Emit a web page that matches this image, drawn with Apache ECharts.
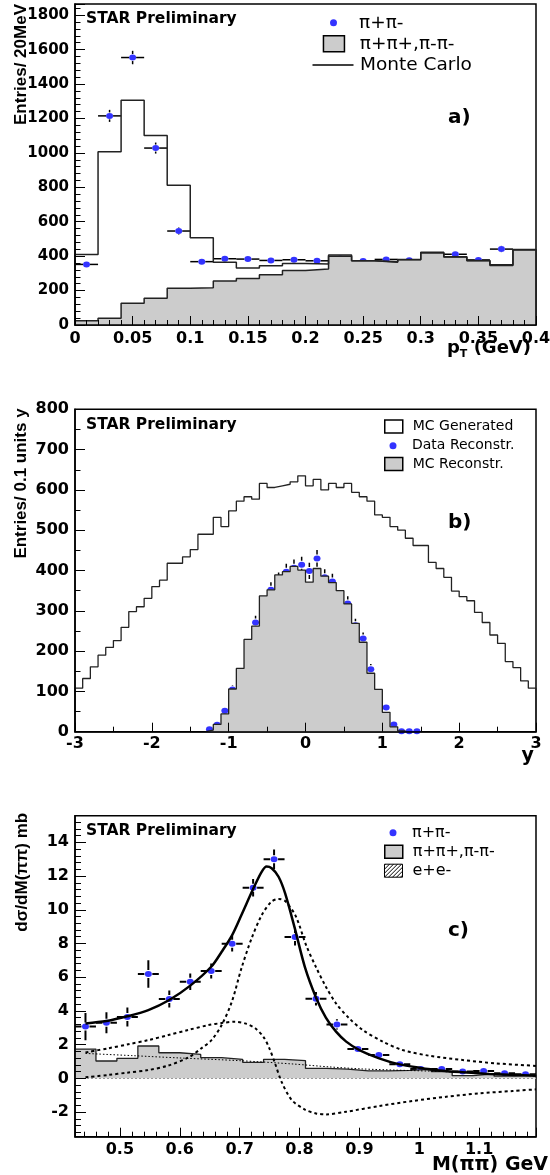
<!DOCTYPE html>
<html><head><meta charset="utf-8">
<script src="https://cdn.jsdelivr.net/npm/echarts@6/dist/echarts.min.js"></script>
<style>html,body{margin:0;padding:0;background:#fff}#c{width:550px;height:1175px}</style>
</head><body><div id="c"></div>
<script>
// ---------- Panel a) pT distribution ----------
const ptBinLow = 0, ptBinWidth = 0.02;
const ptData     = [352, 1215, 1554, 1028, 546, 368, 385, 383, 375, 379, 373, 387, 372, 381, 376, 403, 411, 378, 441, 418];
const ptDataErr  = [19, 35, 39, 32, 23, 19, 20, 20, 19, 19, 19, 20, 19, 20, 19, 20, 20, 19, 21, 20];
const ptLikeSign = [25, 39, 126, 155, 213, 217, 256, 270, 292, 316, 325, 400, 373, 364, 379, 418, 395, 375, 350, 436];
const ptMC       = [410, 1006, 1306, 1101, 812, 507, 364, 331, 344, 358, 355, 406, 374, 367, 381, 422, 397, 374, 345, 439];

// ---------- Panel b) rapidity ----------
const yGenLow = -3, yBinWidth = 0.1;
const yMCGen = [108,132,161,190,209,226,259,298,310,331,
                360,376,418,418,434,452,490,490,532,509,
                548,572,583,577,616,606,610,614,620,635,
                610,626,600,616,606,616,594,583,572,538,
                532,509,500,480,462,462,420,405,383,349,
                335,325,296,271,240,219,174,159,126,108];
const yRecoLow = -1.3;
const yMCReco = [4, 18, 44, 106, 157, 229, 262, 337, 352, 389, 397, 410, 401, 371, 405, 386, 370, 350, 317, 269, 222, 145, 105, 48, 12, 2];
const yDataLow = -1.3;
const yData    = [6, 17, 52, 105, 145, 209, 271, 313, 352, 376, 397, 407, 414, 399, 430, 383, 373, 328, 318, 264, 231, 155, 98, 60, 18, 1, 1, 1];
const yDataErr = [3, 5, 8, 11, 12, 15, 17, 18, 19, 19, 20, 20, 20, 20, 21, 20, 19, 18, 18, 16, 15, 13, 10, 8, 5, 1, 1, 1];

// ---------- Panel c) invariant mass ----------
const mBinLow = 0.425, mBinWidth = 0.035;
const mData     = [3.07, 3.30, 3.64, 6.19, 4.71, 5.73, 6.37, 7.99, 11.31, 12.99, 8.38, 4.72, 3.20, 1.74, 1.38, 0.83, 0.55, 0.55, 0.40, 0.44, 0.30, 0.24];
const mDataErr  = [0.81, 0.62, 0.57, 0.82, 0.50, 0.49, 0.45, 0.46, 0.52, 0.59, 0.50, 0.40, 0.30, 0.22, 0.20, 0.15, 0.12, 0.12, 0.10, 0.10, 0.08, 0.07];
const mLikeSign = [1.74, 1.03, 1.19, 1.92, 1.52, 1.42, 1.23, 1.13, 0.95, 1.13, 1.05, 0.59, 0.55, 0.45, 0.44, 0.47, 0.53, 0.40, 0.16, 0.27, 0.13, 0.20];
const fitTotal = [[0.4425,3.26],[0.4775,3.40],[0.5125,3.68],[0.5475,4.05],[0.5825,4.65],[0.6175,5.50],[0.6525,6.62],[0.670,7.51],[0.6875,8.50],[0.703,9.69],[0.7225,11.23],[0.737,12.26],[0.745,12.56],[0.7535,12.46],[0.765,11.96],[0.776,10.97],[0.7925,8.85],[0.809,6.60],[0.8275,4.80],[0.844,3.60],[0.861,2.77],[0.878,2.18],[0.900,1.68],[0.933,1.19],[0.967,0.83],[1.000,0.63],[1.0335,0.47],[1.0725,0.36],[1.117,0.26],[1.195,0.16]];
const fitRho = [[0.4425,0.06],[0.48,0.20],[0.5125,0.34],[0.547,0.49],[0.58,0.75],[0.614,1.23],[0.636,1.78],[0.653,2.27],[0.670,3.16],[0.687,4.55],[0.703,6.53],[0.720,8.31],[0.737,9.69],[0.753,10.48],[0.765,10.64],[0.776,10.52],[0.794,9.60],[0.811,7.90],[0.8275,6.60],[0.844,5.44],[0.861,4.45],[0.883,3.56],[0.9055,2.87],[0.939,2.18],[0.972,1.68],[1.017,1.34],[1.0725,1.09],[1.128,0.89],[1.195,0.74]];
const fitInterf = [[0.4425,1.54],[0.48,1.78],[0.514,2.02],[0.5475,2.27],[0.581,2.57],[0.614,2.87],[0.648,3.16],[0.670,3.28],[0.692,3.36],[0.709,3.26],[0.726,2.97],[0.740,2.45],[0.750,1.75],[0.759,0.90],[0.770,-0.20],[0.787,-1.28],[0.809,-1.85],[0.8275,-2.08],[0.844,-2.14],[0.878,-1.98],[0.933,-1.64],[0.989,-1.34],[1.045,-1.09],[1.10,-0.89],[1.156,-0.75],[1.195,-0.65]];
const fitDirect = [[0.4425,1.48],[0.52,1.35],[0.60,1.21],[0.70,1.05],[0.79,0.85],[0.85,0.68],[0.905,0.56],[0.96,0.49],[1.017,0.43],[1.07,0.36],[1.128,0.25],[1.195,0.14]];

// ---------- helpers ----------
const r4 = v => Math.round(v * 10000) / 10000;
function stepPoints(low, width, vals) {
  const pts = [[r4(low), 0]];
  vals.forEach((v, i) => pts.push([r4(low + i * width), v]));
  const hi = r4(low + vals.length * width);
  pts.push([hi, vals[vals.length - 1]]);
  pts.push([hi, 0]);
  return pts;
}
function centers(low, width, vals) { return vals.map((v, i) => [r4(low + (i + 0.5) * width), v]); }
function errData(low, width, vals, errs) { return vals.map((v, i) => [r4(low + (i + 0.5) * width), v, width / 2, errs[i]]); }
function errBars(gap, lw) {
  return function (params, api) {
    const x = api.value(0), y = api.value(1), ex = api.value(2), ey = api.value(3);
    const c = api.coord([x, y]);
    const xl = api.coord([x - ex, y])[0], xr = api.coord([x + ex, y])[0];
    const yt = api.coord([x, y + ey])[1], yb = api.coord([x, y - ey])[1];
    const st = () => ({ stroke: '#000', lineWidth: lw });
    const ch = [];
    if (c[0] - xl > gap) ch.push({ type: 'line', shape: { x1: xl, y1: c[1], x2: c[0] - gap, y2: c[1] }, style: st() });
    if (xr - c[0] > gap) ch.push({ type: 'line', shape: { x1: c[0] + gap, y1: c[1], x2: xr, y2: c[1] }, style: st() });
    if (c[1] - yt > gap) ch.push({ type: 'line', shape: { x1: c[0], y1: yt, x2: c[0], y2: c[1] - gap }, style: st() });
    if (yb - c[1] > gap) ch.push({ type: 'line', shape: { x1: c[0], y1: c[1] + gap, x2: c[0], y2: yb }, style: st() });
    return { type: 'group', children: ch };
  };
}
const LB = 'DejaVu Sans';
const fmt = v => String(+(+v).toFixed(6));
function axis(gi, o) {
  return Object.assign({
    type: 'value', gridIndex: gi, z: 5, nameMoveOverlap: false,
    axisLine: { show: true, onZero: false, lineStyle: { color: '#000', width: 1.5 } },
    axisTick: { show: true, inside: true, length: o.tickLen || 9, lineStyle: { color: '#000', width: 1 } },
    minorTick: { show: true, splitNumber: o.minor, length: (o.tickLen || 9) / 2 + 0.5, lineStyle: { color: '#000', width: 1 } },
    splitLine: { show: false }, minorSplitLine: { show: false },
    axisLabel: Object.assign({ color: '#000', fontFamily: LB, fontWeight: 'bold', fontSize: 16, margin: 5, formatter: fmt }, o.label || {})
  }, o.opt);
}
const yName = (txt, gap, shift) => ({
  name: txt, nameLocation: 'middle', nameRotate: 90, nameGap: gap,
  nameTextStyle: { fontFamily: 'Liberation Sans', fontWeight: 'bold', fontSize: 17, color: '#000', padding: [0, 0, 0, shift * 2] }
});
// x-axis title placed at the axis middle and shifted right by `shift` px
const xName = (txt, gap, shift, extra) => ({
  name: txt, nameLocation: 'middle', nameRotate: 0, nameGap: gap,
  nameTextStyle: Object.assign({ fontFamily: LB, fontWeight: 'bold', fontSize: 19, lineHeight: 22, color: '#000',
    align: 'center', verticalAlign: 'top', padding: [0, 0, 0, shift * 2] }, extra || {})
});
function leg(name, left, top, w, h, icon, itemStyle, pad, fs) {
  return { show: true, left: left, top: top, padding: 0, itemWidth: w, itemHeight: h, selectedMode: false,
    data: [{ name: name, icon: icon, itemStyle: itemStyle }],
    textStyle: { fontFamily: LB, fontSize: fs, color: '#000', lineHeight: 20, padding: [0, 0, 0, pad] } };
}
const BLUE = '#0000ff', GRAY = '#cccccc';
const hatch = 'path://M0,0L18,0L18,13L0,13Z M0,1L1,0 M0,5L5,0 M0,9L9,0 M0,13L13,0 M4,13L17,0 M8,13L18,3 M12,13L18,7 M16,13L18,11';
const gridBase = { left: 75, width: 461, show: true, borderColor: '#000', borderWidth: 1.5, backgroundColor: 'transparent', containLabel: false, outerBoundsMode: 'none' };

const option = {
  animation: false,
  backgroundColor: '#fff',
  grid: [
    Object.assign({ top: 4, height: 321 }, gridBase),
    Object.assign({ top: 409.3, height: 322.4 }, gridBase),
    Object.assign({ top: 815.7, height: 321 }, gridBase)
  ],
  xAxis: [
    axis(0, { minor: 5, label: { margin: 6 }, opt: Object.assign({ min: 0, max: 0.4, interval: 0.05 },
      xName('{a|p}{s|T}{a| (GeV)}', 12.5, 183.5, {
        rich: { a: { fontFamily: LB, fontWeight: 'bold', fontSize: 18, lineHeight: 22, color: '#000' },
                s: { fontFamily: LB, fontWeight: 'bold', fontSize: 11, lineHeight: 12, verticalAlign: 'bottom', color: '#000' } } })) }),
    axis(1, { minor: 2, label: { margin: 4.5 }, opt: Object.assign({ min: -3, max: 3, interval: 1 },
      xName('y', 13.3, 222.3)) }),
    axis(2, { minor: 5, label: { margin: 5, showMinLabel: false, showMaxLabel: false },
      opt: Object.assign({ min: 0.425, max: 1.195, minInterval: 0.1, maxInterval: 0.1 },
      xName('M(ππ) GeV', 17.3, 184.5)) })
  ],
  yAxis: [
    axis(0, { minor: 5, tickLen: 10, label: { fontSize: 15, margin: 6, showMaxLabel: false },
      opt: Object.assign({ min: 0, max: 1865, interval: 200 }, yName('Entries/ 20MeV', 45, 100)) }),
    axis(1, { minor: 2, tickLen: 10, label: { margin: 6 },
      opt: Object.assign({ min: 0, max: 800, interval: 100 }, yName('Entries/ 0.1 units y', 45, 87)) }),
    axis(2, { minor: 5, tickLen: 11, label: { margin: 6, showMinLabel: false, showMaxLabel: false },
      opt: Object.assign({ min: -3.46, max: 15.58, minInterval: 2, maxInterval: 2 }, yName('dσ/dM(ππ) mb', 44, 104)) })
  ],
  legend: [
    leg('π+π-', 330, 12.7, 7, 7, 'circle', { color: BLUE, borderWidth: 0 }, 17, 18.5),
    leg('π+π+,π-π-', 322.7, 33.8, 21, 16, 'rect', { color: GRAY, borderColor: '#000', borderWidth: 1.5 }, 10.3, 18.5),
    leg('Monte Carlo', 312.5, 55, 41, 1.5, 'rect', { color: '#000', borderWidth: 0 }, 1.5, 18.5),
    leg('MC Generated', 384, 416.5, 18, 13, 'rect', { color: '#fff', borderColor: '#000', borderWidth: 1.5 }, 5, 14),
    leg('Data Reconstr.', 389.5, 435.7, 7, 7, 'circle', { color: BLUE, borderWidth: 0 }, 10.5, 14),
    leg('MC Reconstr.', 384, 454, 18, 13, 'rect', { color: GRAY, borderColor: '#000', borderWidth: 1.5 }, 5, 14),
    leg('π+π-', 389.5, 822.7, 7, 7, 'circle', { color: BLUE, borderWidth: 0 }, 10.5, 16),
    leg('π+π+,π-π-', 384, 841.7, 18, 13, 'rect', { color: GRAY, borderColor: '#000', borderWidth: 1.5 }, 5, 16),
    leg('e+e-', 384, 860.7, 18, 13, hatch, { color: '#fff', borderColor: '#000', borderWidth: 1 }, 5, 16)
  ],
  graphic: [
    { type: 'text', x: 86, y: 19, z: 100, style: { text: 'STAR Preliminary', font: 'bold 15.5px "DejaVu Sans"', fill: '#000', verticalAlign: 'middle' } },
    { type: 'text', x: 448, y: 118, z: 100, style: { text: 'a)', font: 'bold 20px "DejaVu Sans"', fill: '#000', verticalAlign: 'middle' } },
    { type: 'text', x: 86, y: 425, z: 100, style: { text: 'STAR Preliminary', font: 'bold 15.5px "DejaVu Sans"', fill: '#000', verticalAlign: 'middle' } },
    { type: 'text', x: 448, y: 523, z: 100, style: { text: 'b)', font: 'bold 20px "DejaVu Sans"', fill: '#000', verticalAlign: 'middle' } },
    { type: 'text', x: 86, y: 831, z: 100, style: { text: 'STAR Preliminary', font: 'bold 15.5px "DejaVu Sans"', fill: '#000', verticalAlign: 'middle' } },
    { type: 'text', x: 448, y: 931, z: 100, style: { text: 'c)', font: 'bold 20px "DejaVu Sans"', fill: '#000', verticalAlign: 'middle' } }
  ],
  series: [
    // panel a
    { type: 'line', name: 'π+π+,π-π-', xAxisIndex: 0, yAxisIndex: 0, step: 'end', symbol: 'none',
      data: stepPoints(ptBinLow, ptBinWidth, ptLikeSign), lineStyle: { color: '#222', width: 1.5 },
      itemStyle: { color: GRAY }, areaStyle: { color: GRAY, opacity: 1 } },
    { type: 'line', name: 'Monte Carlo', xAxisIndex: 0, yAxisIndex: 0, step: 'end', symbol: 'none',
      data: stepPoints(ptBinLow, ptBinWidth, ptMC), lineStyle: { color: '#222', width: 1.5 }, itemStyle: { color: '#000' } },
    { type: 'custom', name: 'pt-err', xAxisIndex: 0, yAxisIndex: 0, renderItem: errBars(3.5, 1.5), clip: true,
      encode: { x: 0, y: 1 }, data: errData(ptBinLow, ptBinWidth, ptData, ptDataErr) },
    { type: 'scatter', name: 'π+π-', xAxisIndex: 0, yAxisIndex: 0, symbol: 'circle', symbolSize: [7, 6],
      itemStyle: { color: BLUE }, data: centers(ptBinLow, ptBinWidth, ptData) },
    // panel b
    { type: 'line', name: 'MC Reconstr.', xAxisIndex: 1, yAxisIndex: 1, step: 'end', symbol: 'none',
      data: stepPoints(yRecoLow, yBinWidth, yMCReco), lineStyle: { color: '#222', width: 1.3 },
      itemStyle: { color: GRAY }, areaStyle: { color: GRAY, opacity: 1 } },
    { type: 'line', name: 'MC Generated', xAxisIndex: 1, yAxisIndex: 1, step: 'end', symbol: 'none',
      data: stepPoints(yGenLow, yBinWidth, yMCGen), lineStyle: { color: '#222', width: 1.3 }, itemStyle: { color: '#000' } },
    { type: 'custom', name: 'y-err', xAxisIndex: 1, yAxisIndex: 1, renderItem: errBars(4, 1.5), clip: true,
      encode: { x: 0, y: 1 }, data: errData(yDataLow, yBinWidth, yData, yDataErr) },
    { type: 'scatter', name: 'Data Reconstr.', xAxisIndex: 1, yAxisIndex: 1, symbol: 'circle', symbolSize: [7, 6],
      itemStyle: { color: BLUE }, data: centers(yDataLow, yBinWidth, yData) },
    // panel c
    { type: 'line', name: 'π+π+,π-π-', xAxisIndex: 2, yAxisIndex: 2, step: 'end', symbol: 'none',
      data: stepPoints(mBinLow, mBinWidth, mLikeSign), lineStyle: { color: '#222', width: 1.3 },
      itemStyle: { color: GRAY }, areaStyle: { color: GRAY, opacity: 1 },
      markLine: { silent: true, symbol: ['none', 'none'], label: { show: false },
        lineStyle: { color: '#999', type: [2, 2], width: 1 }, data: [{ yAxis: 0 }] } },
    { type: 'line', name: 'e+e-', xAxisIndex: 2, yAxisIndex: 2, symbol: 'none', data: [] },
    { type: 'line', name: 'direct', xAxisIndex: 2, yAxisIndex: 2, symbol: 'none', smooth: 0.3,
      data: fitDirect, lineStyle: { color: '#000', width: 1, type: [1.5, 2] } },
    { type: 'line', name: 'interference', xAxisIndex: 2, yAxisIndex: 2, symbol: 'none', smooth: 0.3,
      data: fitInterf, lineStyle: { color: '#000', width: 2, type: [3, 3] } },
    { type: 'line', name: 'rho', xAxisIndex: 2, yAxisIndex: 2, symbol: 'none', smooth: 0.3,
      data: fitRho, lineStyle: { color: '#000', width: 2, type: [3, 3] } },
    { type: 'line', name: 'fit', xAxisIndex: 2, yAxisIndex: 2, symbol: 'none', smooth: 0.3,
      data: fitTotal, lineStyle: { color: '#000', width: 2.5 } },
    { type: 'custom', name: 'm-err', xAxisIndex: 2, yAxisIndex: 2, renderItem: errBars(4, 2), clip: true,
      encode: { x: 0, y: 1 }, data: errData(mBinLow, mBinWidth, mData, mDataErr) },
    { type: 'scatter', name: 'π+π-', xAxisIndex: 2, yAxisIndex: 2, symbol: 'circle', symbolSize: [7, 6],
      itemStyle: { color: BLUE }, data: centers(mBinLow, mBinWidth, mData) }
  ]
};
const chart = echarts.init(document.getElementById('c'), null, { renderer: 'canvas' });
chart.setOption(option);
</script>
</body></html>
